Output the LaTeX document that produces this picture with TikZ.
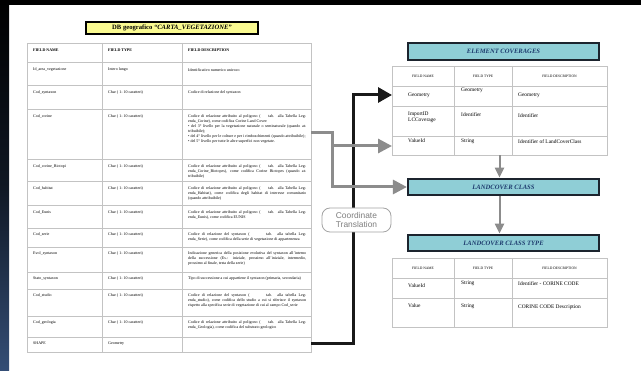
\documentclass[tikz,border=0pt]{standalone}
\usepackage{fontspec}
\setmainfont{Liberation Serif}
\newfontfamily\arialfont{Liberation Sans}
\usetikzlibrary{shapes,arrows.meta}

\definecolor{stripblue}{RGB}{52,78,118}
\definecolor{gridgray}{RGB}{195,195,195}
\definecolor{arrowgray}{RGB}{140,140,140}
\definecolor{dbyellow}{RGB}{250,250,145}
\definecolor{covteal}{RGB}{143,206,214}
\definecolor{boxdark}{RGB}{28,36,46}
\definecolor{titleblue}{RGB}{30,60,110}

\begin{document}
\begin{tikzpicture}[x=1pt,y=-1pt,
	grid/.style={draw=gridgray, line width=0.6pt},
	cell/.style={anchor=north west, inner sep=0pt, font=\fontsize{4}{4.6}\selectfont},
	desc/.style={cell, text width=118pt, align=justify},
	rcell/.style={anchor=west, inner sep=0pt, align=left, font=\fontsize{5.4}{6.2}\selectfont},
	rhead/.style={inner sep=0pt, font=\fontsize{3.6}{4}\selectfont},
	tabframe/.style={draw=gridgray, line width=0.6pt, inner sep=0pt},
	dbtitle/.style={draw=black, line width=1.6pt, fill=dbyellow, minimum width=172pt, minimum height=12.5pt, inner sep=0pt, font=\fontsize{6.6}{7}\selectfont\bfseries},
	covbox/.style={draw=boxdark, line width=2.2pt, fill=covteal, minimum width=191pt, minimum height=16.5pt, inner sep=0pt, text=titleblue, font=\fontsize{6.6}{7}\selectfont\bfseries\itshape},
	transbox/.style={draw=arrowgray!80, line width=0.8pt, fill=white, rounded corners=8pt, minimum width=69pt, minimum height=24pt, inner sep=0pt, align=left, text=arrowgray!90!black, font=\arialfont\fontsize{8.4}{9.4}\selectfont},
	blackarrow/.style={draw=black!90, line width=3pt, -{Triangle[length=14pt,width=15pt]}},
	grayarrow/.style={draw=arrowgray, line width=3pt, -{Triangle[length=14pt,width=14pt]}},
	downarrow/.style={draw=arrowgray, line width=2pt, -{Triangle[length=10pt,width=9pt]}}]
	\useasboundingbox (0,0) rectangle (641,371);
	% background and frame of the slide
	\fill[white] (0,0) rectangle (641,371);
	\shade[top color=black, bottom color=stripblue, middle color=black!70!stripblue] (0,0) rectangle (9,371);
	\fill[black] (0,0) rectangle (641,5);

	% left table: DB geografico
	\node[dbtitle] (dbt) at (172,28) {DB geografico \textit{“CARTA\_VEGETAZIONE”}};
	\draw[grid] (27,43) rectangle (311,352);
	\foreach \x in {102,182} \draw[grid] (\x,43) -- (\x,352);
	\foreach \y in {62,85,109,159,181,205,228,247,272,289,316,337} \draw[grid] (27,\y) -- (311,\y);
	\node[cell] (h1) at (33,49) {\bfseries FIELD NAME};
	\node[cell] (h2) at (108,49) {\bfseries FIELD TYPE};
	\node[cell] (h3) at (188,49) {\bfseries FIELD DESCRIPTION};

	\node[cell] (n1) at (33,68) {Id\_area\_vegetazione};
	\node[cell] (t1) at (108,68) {Intero lungo};
	\node[desc] (d1) at (188,68) {Identificativo numerico univoco};

	\node[cell] (n2) at (33,91) {Cod\_syntaxon};
	\node[cell] (t2) at (108,91) {Char ( 1- 10 caratteri)};
	\node[desc] (d2) at (188,91) {Codice di relazione del syntaxon};

	\node[cell] (n3) at (33,115) {Cod\_corine};
	\node[cell] (t3) at (108,115) {Char ( 1- 10 caratteri)};
	\node[desc] (d3) at (188,115) {Codice di relazione attribuito al poligono (\hspace{6pt} tab. alla Tabella Legenda\_Corine), come codifica Corine Land Cover:\\[0.6pt]
		\textbullet\ del 3° livello per la vegetazione naturale o seminaturale (quando attribuibile);\\[0.6pt]
		\textbullet\ del 4° livello per le colture e per i rimboschimenti (quando attribuibile);\\[0.6pt]
		\textbullet\ del 5° livello per tutte le altre superfici non vegetate.};

	\node[cell] (n4) at (33,165) {Cod\_corine\_Biotopi};
	\node[cell] (t4) at (108,165) {Char ( 1- 10 caratteri)};
	\node[desc] (d4) at (188,165) {Codice di relazione attribuito al poligono (\hspace{6pt} tab. alla Tabella Legenda\_Corine\_Biotopes), come codifica Corine Biotopes (quando attribuibile)};

	\node[cell] (n5) at (33,187) {Cod\_habitat};
	\node[cell] (t5) at (108,187) {Char ( 1- 10 caratteri)};
	\node[desc] (d5) at (188,187) {Codice di relazione attribuito al poligono (\hspace{6pt} tab. alla Tabella Legenda\_Habitat), come codifica degli habitat di interesse comunitario (quando attribuibile)};

	\node[cell] (n6) at (33,211) {Cod\_Eunis};
	\node[cell] (t6) at (108,211) {Char ( 1- 10 caratteri)};
	\node[desc] (d6) at (188,211) {Codice di relazione attribuito al poligono (\hspace{6pt} tab. alla Tabella Legenda\_Eunis), come codifica EUNIS};

	\node[cell] (n7) at (33,233) {Cod\_serie};
	\node[cell] (t7) at (108,233) {Char ( 1- 10 caratteri)};
	\node[desc] (d7) at (188,233) {Codice di relazione del syntaxon (\hspace{14pt} tab. alla tabella Legenda\_Serie), come codifica della serie di vegetazione di appartenenza};

	\node[cell] (n8) at (33,252) {Evol\_syntaxon};
	\node[cell] (t8) at (108,252) {Char ( 1- 10 caratteri)};
	\node[desc] (d8) at (188,252) {Indicazione generica della posizione evolutiva del syntaxon all'interno della successione (Es.: iniziale, prossimo all'iniziale, intermedio, prossimo al finale, testa della serie)};

	\node[cell] (n9) at (33,277) {Stato\_syntaxon};
	\node[cell] (t9) at (108,277) {Char ( 1- 10 caratteri)};
	\node[desc] (d9) at (188,277) {Tipo di successione a cui appartiene il syntaxon (primaria, secondaria)};

	\node[cell] (n10) at (33,294) {Cod\_studio};
	\node[cell] (t10) at (108,294) {Char ( 1- 10 caratteri)};
	\node[desc] (d10) at (188,294) {Codice di relazione del syntaxon (\hspace{14pt} tab. alla tabella Legenda\_studio), come codifica dello studio a cui si riferisce il syntaxon rispetto alla specifica serie di vegetazione di cui al campo Cod\_serie};

	\node[cell] (n11) at (33,321) {Cod\_geologia};
	\node[cell] (t11) at (108,321) {Char ( 1- 10 caratteri)};
	\node[desc] (d11) at (188,321) {Codice di relazione attribuito al poligono (\hspace{6pt} tab. alla Tabella Legenda\_Geologia), come codifica del substrato geologico};

	\node[cell] (n12) at (33,342) {SHAPE};
	\node[cell] (t12) at (108,342) {Geometry};

	% right side: element coverages
	\node[covbox] (ecov) at (503.5,51.5) {ELEMENT COVERAGES};
	\node[tabframe, minimum width=215pt, minimum height=89pt] (ectab) at (499.5,110.5) {};
	\foreach \x in {454,512} \draw[grid] (\x,66) -- (\x,155);
	\foreach \y in {86,106,136} \draw[grid] (392,\y) -- (607,\y);
	\node[rhead] (eh1) at (423,76) {FIELD NAME};
	\node[rhead] (eh2) at (483,76) {FIELD TYPE};
	\node[rhead] (eh3) at (559.5,76) {FIELD DESCRIPTION};
	\node[rcell] (ea1) at (408,95) {Geometry};
	\node[rcell] (ea2) at (461,90) {Geometry};
	\node[rcell] (ea3) at (518,95) {Geometry};
	\node[rcell] (eb1) at (408,117) {ImportID\\LCCoverage};
	\node[rcell] (eb2) at (461,115) {Identifier};
	\node[rcell] (eb3) at (518,115.5) {Identifier};
	\node[rcell] (ec1) at (408,141) {ValueId};
	\node[rcell] (ec2) at (461,141.5) {String};
	\node[rcell] (ec3) at (518,142) {Identifier of LandCoverClass};

	% landcover class and type
	\node[covbox] (lcc) at (503.5,187) {LANDCOVER CLASS};
	\node[covbox] (lct) at (503.5,243) {LANDCOVER CLASS TYPE};
	\node[tabframe, minimum width=215pt, minimum height=69pt] (lttab) at (499.5,292.5) {};
	\foreach \x in {454,512} \draw[grid] (\x,258) -- (\x,327);
	\foreach \y in {278,298} \draw[grid] (392,\y) -- (607,\y);
	\node[rhead] (lh1) at (423,268) {FIELD NAME};
	\node[rhead] (lh2) at (483,268) {FIELD TYPE};
	\node[rhead] (lh3) at (559.5,268) {FIELD DESCRIPTION};
	\node[rcell] (la1) at (408,286) {ValueId};
	\node[rcell] (la2) at (461,283) {String};
	\node[rcell] (la3) at (518,284) {Identifier - CORINE CODE};
	\node[rcell] (lb1) at (408,306) {Value};
	\node[rcell] (lb2) at (461,306) {String};
	\node[rcell] (lb3) at (518,307) {CORINE CODE Description};

	\draw[downarrow] (ectab.south) -- (ectab.south |- lcc.north);
	\draw[downarrow] (lcc.south -| ectab.south) -- (lct.north -| ectab.south);

	% connectors from the DB table
	\coordinate (shaperow) at (311,344);
	\coordinate (geomrow) at (392,95);
	\coordinate (corinerow) at (311,133);
	\coordinate (valrow) at (392,146);
	\draw[blackarrow] (shaperow) -- (353,344) |- (geomrow);
	\draw[grayarrow] (corinerow) -- (332,133) |- (lcc.west);
	\draw[grayarrow] (332,146) -- (valrow);
	\node[transbox] (transl) at (356.5,220) {Coordinate\\Translation};
\end{tikzpicture}
\end{document}
